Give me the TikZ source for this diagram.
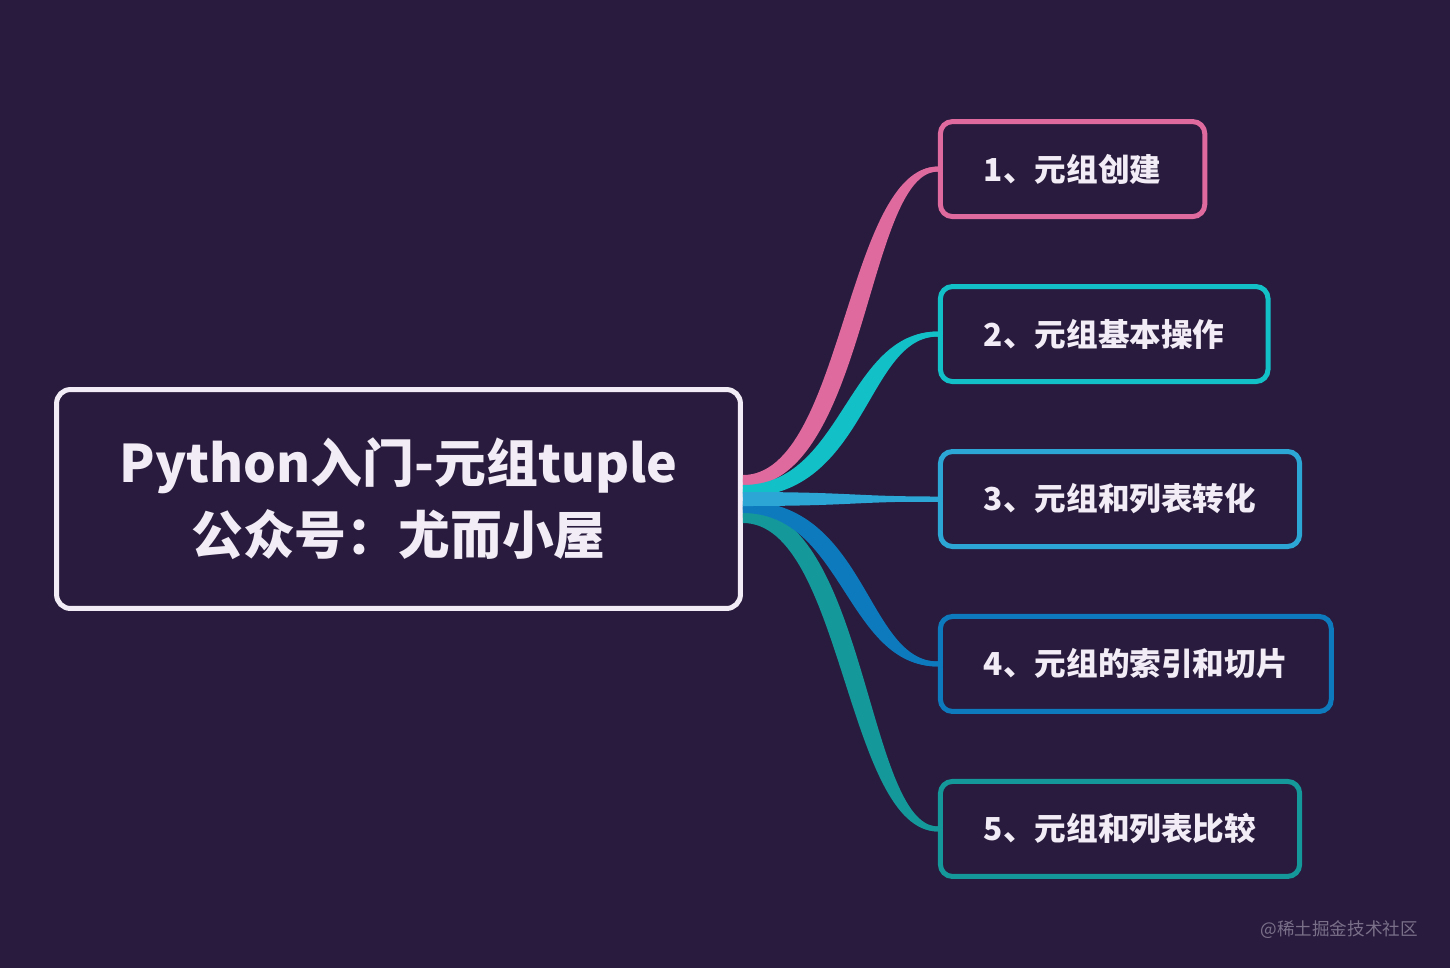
\documentclass[tikz,border=0pt]{standalone}
\usepackage{fontspec}
\setmainfont{Noto Sans CJK SC}
\usepackage{tikz}
\usetikzlibrary{positioning,calc}
\definecolor{bgpurple}{RGB}{41,27,61}
\definecolor{titlewhite}{RGB}{241,236,245}
\definecolor{cpink}{RGB}{222,106,158}
\definecolor{ccyan}{RGB}{18,192,200}
\definecolor{clight}{RGB}{44,166,212}
\definecolor{cblue}{RGB}{14,122,190}
\definecolor{cteal}{RGB}{20,152,154}
\definecolor{wmgray}{RGB}{122,112,138}

\begin{document}
\begin{tikzpicture}[x=0.02cm, y=-0.02cm,
  root/.style={draw=titlewhite, line width=0.1cm, rounded corners=0.28cm, minimum width=13.68cm, minimum height=4.38cm, align=center, text=titlewhite, font=\bfseries\fontsize{29.5}{41}\selectfont},
  leaf/.style={draw=#1, line width=0.1cm, rounded corners=0.24cm, minimum height=1.9cm, inner xsep=0.87cm, text=titlewhite, font=\bfseries\fontsize{18}{22}\selectfont},
  stem/.style={line width=0.1cm},
  node distance=1.3cm and 3.9cm]
\fill[bgpurple] (0,0) rectangle (1450,968);
\useasboundingbox (0,0) rectangle (1450,968);
\node[root] (root) at (398.5,499) {Python入门-元组tuple\\公众号：尤而小屋};
\node[leaf=clight, right=of root] (b3) {3、元组和列表转化};
\node[leaf=ccyan, above=of b3.north west, anchor=south west] (b2) {2、元组基本操作};
\node[leaf=cpink, above=of b2.north west, anchor=south west] (b1) {1、元组创建};
\node[leaf=cblue, below=of b3.south west, anchor=north west] (b4) {4、元组的索引和切片};
\node[leaf=cteal, below=of b4.south west, anchor=north west] (b5) {5、元组和列表比较};
% tapered branches, thick at the root
\foreach \t/\c/\a/\b/\m/\pa/\qa/\pb/\qb in {
    b5/cteal/8/24/16/124/-72/100/-92, b4/cblue/2/14/8/124/-72/100/-92,
    b1/cpink/-24/-12/-18/100/-92/124/-72, b2/ccyan/-14/-2/-8/100/-92/124/-72,
    b3/clight/-7/7/0/110/-85/110/-85} {
  \fill[\c] ($(root.east)+(0,\a)$) .. controls +(\pa,0) and +(\qa,0) .. ($(\t.west)+(0,-2.5)$)
    -- ($(\t.west)+(0,2.5)$) .. controls +(\qb,0) and +(\pb,0) .. ($(root.east)+(0,\b)$) -- cycle;
  \draw[stem, \c] ($(root.east)+(0,\m)$) .. controls +(110,0) and +(-85,0) .. (\t.west);
}
\node[text=wmgray, font=\fontsize{10}{12}\selectfont, anchor=east] (mark) at (1424,930) {@稀土掘金技术社区};
\end{tikzpicture}
\end{document}
